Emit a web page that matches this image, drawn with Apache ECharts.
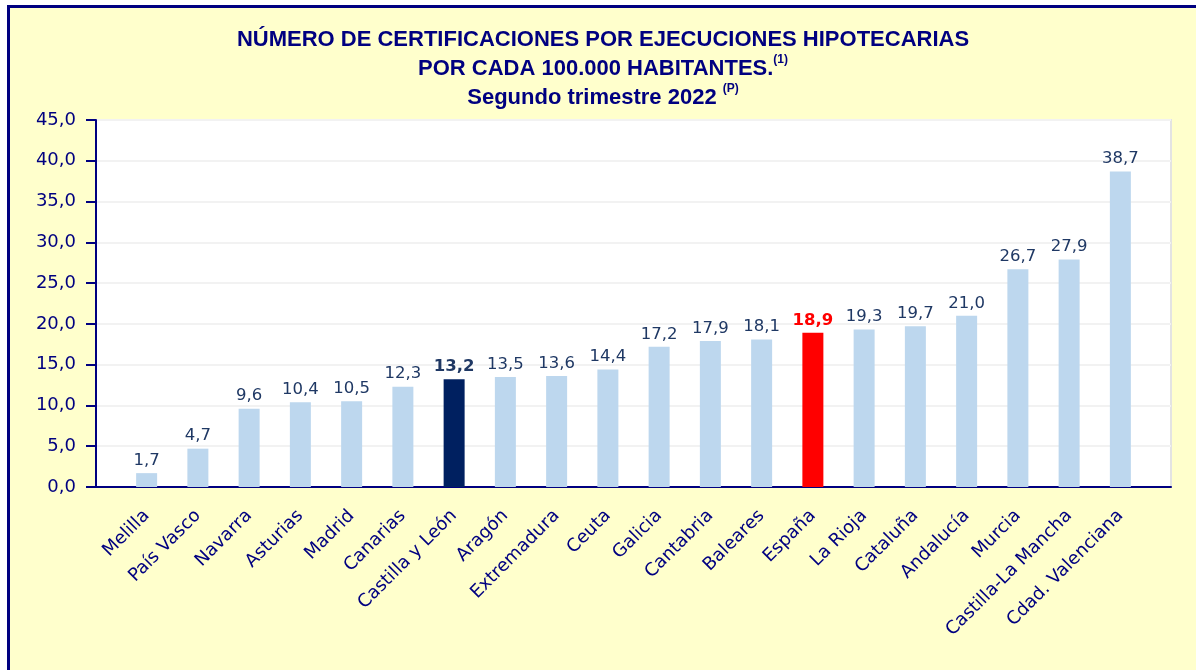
<!DOCTYPE html>
<html>
<head>
<meta charset="utf-8">
<script src="https://cdn.jsdelivr.net/npm/echarts@6/dist/echarts.min.js"></script>
<style>
  html, body { margin: 0; padding: 0; background: #ffffff; }
  #chart {
    position: absolute; left: 10px; top: 8px;
    width: 1186px; height: 662px;
    background: #FFFFCC;
    border-left: 3px solid #000080;
    border-top: 3px solid #000080;
    margin-left: -3px; margin-top: -3px;
  }
</style>
</head>
<body>
<div id="chart"></div>
<script>
// ---- data ----
const categories = ['Melilla', 'País Vasco', 'Navarra', 'Asturias', 'Madrid', 'Canarias',
  'Castilla y León', 'Aragón', 'Extremadura', 'Ceuta', 'Galicia', 'Cantabria', 'Baleares',
  'España', 'La Rioja', 'Cataluña', 'Andalucía', 'Murcia', 'Castilla-La Mancha', 'Cdad. Valenciana'];
const values = [1.7, 4.7, 9.6, 10.4, 10.5, 12.3, 13.2, 13.5, 13.6, 14.4, 17.2, 17.9, 18.1,
  18.9, 19.3, 19.7, 21.0, 26.7, 27.9, 38.7];
const darkCategories = ['Castilla y León'];
const redCategories = ['España'];
const yMin = 0, yMax = 45, yStep = 5;

const titleLines = [
  'NÚMERO DE CERTIFICACIONES POR EJECUCIONES HIPOTECARIAS',
  'POR CADA 100.000 HABITANTES.',
  'Segundo trimestre 2022 '
];
const titleNotes = ['', '(1)', '(P)'];

// ---- styles ----
const NAVY = '#000080';
const LABEL = '#1F3864';
const fmt = v => Number(v).toFixed(1).replace('.', ',');

const barData = values.map((v, i) => {
  const c = categories[i];
  let color = '#BDD7EE', lc = LABEL, fw = 'normal';
  if (darkCategories.includes(c)) { color = '#002060'; fw = 'bold'; }
  if (redCategories.includes(c)) { color = '#FF0000'; lc = '#FF0000'; fw = 'bold'; }
  return { value: v, itemStyle: { color }, label: { color: lc, fontWeight: fw } };
});

const titleText = titleLines.map((t, i) => titleNotes[i] ? t + '{sup|' + titleNotes[i] + '}' : t).join('\n');

const chart = echarts.init(document.getElementById('chart'), null, { renderer: 'canvas' });
chart.setOption({
  animation: false,
  backgroundColor: '#FFFFCC',
  title: {
    text: titleText,
    left: 'center',
    top: 12,
    textStyle: {
      fontFamily: 'Liberation Sans, Arial, sans-serif',
      fontSize: 22,
      fontWeight: 'bold',
      color: NAVY,
      lineHeight: 29,
      rich: {
        sup: { fontFamily: 'Liberation Sans, Arial, sans-serif', fontSize: 12, fontWeight: 'bold',
               color: NAVY, verticalAlign: 'top', lineHeight: 29, padding: [0, 0, 10, 0] }
      }
    }
  },
  grid: [
    { left: 86, right: 25, top: 112, bottom: 183, show: true, backgroundColor: '#ffffff',
      borderColor: '#e3e3e3', borderWidth: 2 },
    { left: 111, right: 50, top: 112, bottom: 183 }
  ],
  xAxis: [
    { gridIndex: 0, type: 'value', min: 0, max: 1, position: 'bottom',
      axisLine: { show: true, lineStyle: { color: NAVY, width: 2 } },
      axisTick: { show: false }, axisLabel: { show: false }, splitLine: { show: false } },
    { gridIndex: 1, type: 'category', data: categories,
      axisLine: { show: false }, axisTick: { show: false },
      axisLabel: { interval: 0, rotate: 45, margin: 26, color: NAVY,
        fontFamily: 'DejaVu Sans, sans-serif', fontSize: 18 } }
  ],
  yAxis: [
    { gridIndex: 0, type: 'value', min: yMin, max: yMax, interval: yStep,
      axisLine: { show: true, lineStyle: { color: NAVY, width: 2 } },
      axisTick: { show: true, inside: false, length: 10, lineStyle: { color: NAVY, width: 2 } },
      axisLabel: { formatter: fmt, margin: 20, color: NAVY,
        fontFamily: 'DejaVu Sans, sans-serif', fontSize: 18 },
      splitLine: { show: true, lineStyle: { color: '#f2f2f2', width: 2 } } },
    { gridIndex: 1, type: 'value', min: yMin, max: yMax, interval: yStep, show: false,
      splitLine: { show: false } }
  ],
  series: [{
    type: 'bar',
    xAxisIndex: 1, yAxisIndex: 1,
    data: barData,
    barWidth: 21,
    label: {
      show: true, position: 'top', distance: 4,
      formatter: p => fmt(p.value),
      fontFamily: 'DejaVu Sans, sans-serif', fontSize: 16.5, color: LABEL
    }
  }]
});
</script>
</body>
</html>
